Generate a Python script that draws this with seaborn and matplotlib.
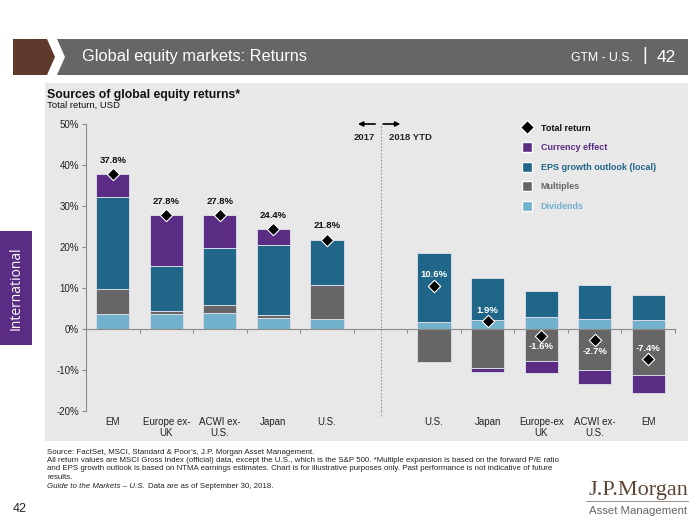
import matplotlib
matplotlib.use("Agg")
import matplotlib.pyplot as plt
import seaborn as sns
import pandas as pd
import numpy as np
from matplotlib.patches import Polygon, Rectangle, Patch
from matplotlib.lines import Line2D

# ---------------- data ----------------
categories = ["EM", "Europe ex-\nUK", "ACWI ex-\nU.S.", "Japan", "U.S.",
              "U.S.", "Japan", "Europe-ex\nUK", "ACWI ex-\nU.S.", "EM"]
periods = ["2017"] * 5 + ["2018 YTD"] * 5
dividends = [3.7, 3.7, 3.9, 2.7, 2.5, 1.7, 2.1, 2.9, 2.5, 2.1]
multiples = [6.0, 0.7, 2.0, 0.6, 8.3, -8.0, -9.6, -7.9, -10.1, -11.1]
eps_growth = [22.4, 11.0, 13.9, 17.1, 11.0, 16.9, 10.3, 6.3, 8.2, 6.1]
currency = [5.7, 12.4, 8.0, 4.0, 0.0, 0.0, -0.8, -2.8, -3.4, -4.5]
total_return = [37.8, 27.8, 27.8, 24.4, 21.8, 10.6, 1.9, -1.6, -2.7, -7.4]
y_ticks = [-20, -10, 0, 10, 20, 30, 40, 50]

# ---------------- style ----------------
sns.set_theme(style="white")
plt.rcParams["font.family"] = ["Liberation Sans", "DejaVu Sans"]

C_CUR = "#5B2C83"
C_EPS = "#1F6689"
C_MUL = "#666666"
C_DIV = "#72B1CC"
PANEL = "#E8E8E8"

W, H = 700, 525
fig = plt.figure(figsize=(7, 5.25), dpi=100)


def fx(x):
    return x / W


def fy(y):
    return 1 - y / H


def ftext(x, y, s, **kw):
    fig.text(fx(x), fy(y), s, transform=fig.transFigure, **kw)


# header
fig.patches.append(Polygon([(fx(13), fy(39)), (fx(47), fy(39)), (fx(55), fy(57)),
                            (fx(47), fy(75)), (fx(13), fy(75))], closed=True,
                           transform=fig.transFigure, facecolor="#5E3A2C", edgecolor="none"))
fig.patches.append(Polygon([(fx(57), fy(39)), (fx(688), fy(39)), (fx(688), fy(75)),
                            (fx(57), fy(75)), (fx(65), fy(57))], closed=True,
                           transform=fig.transFigure, facecolor="#666666", edgecolor="none"))
ftext(82, 57, "Global equity markets: Returns", color="white", fontsize=11.8,
      va="center", ha="left")
ftext(633, 58, "GTM - U.S.", color="white", fontsize=8.8, va="center", ha="right")
ftext(645, 56, "|", color="white", fontsize=13, va="center", ha="center")
ftext(657, 57, "42", color="white", fontsize=12.5, va="center", ha="left")

# grey panel (behind the chart)
fig.patches.append(Rectangle((fx(45), fy(441)), fx(688) - fx(45), fy(83) - fy(441),
                             transform=fig.transFigure, facecolor=PANEL, edgecolor="none",
                             zorder=-5))

# side tab
fig.patches.append(Rectangle((fx(0), fy(345)), fx(32), fy(231) - fy(345),
                             transform=fig.transFigure, facecolor=C_CUR, edgecolor="none"))
ftext(16, 288, "International", color="white", fontsize=10, rotation=90,
      va="center", ha="center", family=["Open Sans", "DejaVu Sans"])

ftext(47, 95, "Sources of global equity returns*", fontsize=8.8, weight="bold",
      color="#111111", va="center")
ftext(47, 105, "Total return, USD", fontsize=6.8, color="#111111", va="center")

# ---------------- chart ----------------
ax = fig.add_axes([fx(86), fy(411), fx(675) - fx(86), fy(124) - fy(411)])
ax.set_facecolor("none")

df = pd.DataFrame({
    "category": categories, "period": periods,
    "Dividends": dividends, "Multiples": multiples,
    "EPS growth outlook (local)": eps_growth, "Currency effect": currency,
    "Total return": total_return,
})
df["x"] = np.arange(len(df)) + (df["period"] == "2018 YTD").astype(int)

comps = [("Dividends", C_DIV), ("Multiples", C_MUL),
         ("EPS growth outlook (local)", C_EPS), ("Currency effect", C_CUR)]
pos_bottom = np.zeros(len(df))
neg_bottom = np.zeros(len(df))
for name, col in comps:
    vals = df[name].to_numpy()
    bottom = np.where(vals >= 0, pos_bottom, neg_bottom)
    ax.bar(df["x"], vals, bottom=bottom, width=0.62, color=col,
           edgecolor="#D8DAE6", linewidth=0.7, zorder=2)
    pos_bottom = pos_bottom + np.where(vals > 0, vals, 0)
    neg_bottom = neg_bottom + np.where(vals < 0, vals, 0)

sns.scatterplot(data=df, x="x", y="Total return", marker="D", s=40, color="black",
                edgecolor="white", linewidth=0.8, zorder=4, ax=ax, legend=False)

label_offset = [10, 10, 10, 10, 10, 8, 8, -8, -8, 8]
for i, r in df.iterrows():
    txt = f"{r['Total return']:.1f}%"
    col = "#111111" if r["period"] == "2017" else "white"
    ax.annotate(txt, (r["x"], r["Total return"]), xytext=(0, label_offset[i]),
                textcoords="offset points", ha="center", va="center",
                fontsize=6.8, weight="bold", color=col, zorder=5)

ax.set_xlim(-0.5, 10.5)
ax.set_ylim(-20, 50)
ax.set_yticks(y_ticks)
ax.set_yticklabels([f"{v}%" for v in y_ticks], fontsize=7, color="#222222")
ax.set_xlabel("")
ax.set_ylabel("")

for s in ["top", "right"]:
    ax.spines[s].set_visible(False)
ax.spines["left"].set_color("#8C8C8C")
ax.spines["left"].set_linewidth(0.8)
ax.spines["bottom"].set_position(("data", 0))
ax.spines["bottom"].set_color("#8C8C8C")
ax.spines["bottom"].set_linewidth(0.8)
ax.spines["bottom"].set_zorder(3)
ax.set_xticks([v + 0.5 for v in range(0, 11)])
ax.set_xticklabels([])
ax.tick_params(axis="x", bottom=True, length=3, width=0.8, color="#8C8C8C", direction="out")
ax.tick_params(axis="y", left=True, length=3, width=0.8, color="#8C8C8C", direction="out", pad=2)

for _, r in df.iterrows():
    ax.text(r["x"], -0.02, r["category"], transform=ax.get_xaxis_transform(),
            ha="center", va="top", fontsize=7, color="#222222", linespacing=1.2)

# divider and period markers
ax.axvline(5, ymin=0, ymax=1, color="#999999", linestyle=(0, (1.5, 1.5)),
           linewidth=0.8, zorder=1)
ax.plot([5, 5], [-20, -21.5], color="#999999", linestyle=(0, (1.5, 1.5)),
        linewidth=0.8, clip_on=False)
arrow_kw = dict(arrowstyle="-|>", color="black", lw=1.2, mutation_scale=7,
                shrinkA=0, shrinkB=0)
ax.annotate("", xy=(4.58, 50), xytext=(4.9, 50), arrowprops=arrow_kw)
ax.annotate("", xy=(5.37, 50), xytext=(5.05, 50), arrowprops=arrow_kw)
ax.text(4.7, 46.8, "2017", ha="center", va="center", fontsize=6.8, weight="bold")
ax.text(5.15, 46.8, "2018 YTD", ha="left", va="center", fontsize=6.8, weight="bold")

# legend
handles = [Line2D([0], [0], marker="D", color="none", markerfacecolor="black",
                  markeredgecolor="white", markersize=7.5)]
handles += [Patch(facecolor=c) for c in [C_CUR, C_EPS, C_MUL, C_DIV]]
labels = ["Total return", "Currency effect", "EPS growth outlook (local)", "Multiples", "Dividends"]
leg = fig.legend(handles, labels, loc="upper left", bbox_to_anchor=(fx(522), fy(123)),
                 bbox_transform=fig.transFigure, frameon=False,
                 labelspacing=1.05, handlelength=1.15, handleheight=1.3, handletextpad=0.9,
                 borderpad=0, borderaxespad=0,
                 labelcolor=["#111111", C_CUR, C_EPS, C_MUL, C_DIV],
                 prop={"weight": "bold", "size": 6.5})

# footer
fs = 5.7
ftext(47, 452, "Source: FactSet, MSCI, Standard & Poor\u2019s, J.P. Morgan Asset Management.",
      fontsize=fs, va="center", color="#222222")
ftext(47, 460.5, "All return values are MSCI Gross Index (official) data, except the U.S., which is the S&P 500. "
      "*Multiple expansion is based on the forward P/E ratio", fontsize=fs,
      va="center", color="#222222")
ftext(47, 469, "and EPS growth outlook is based on NTMA earnings estimates. Chart is for illustrative "
      "purposes only. Past performance is not indicative of future", fontsize=fs,
      va="center", color="#222222")
ftext(47, 477.5, "results.", fontsize=fs, va="center", color="#222222")
ftext(47, 487, "Guide to the Markets \u2013 U.S.", fontsize=fs, style="italic",
      va="center", color="#222222")
ftext(148, 487, "Data are as of September 30, 2018.", fontsize=fs,
      va="center", color="#222222")
ftext(13, 509, "42", fontsize=9, va="center", color="#222222")

ftext(688, 490, "J.P.Morgan", fontsize=16, family=["Liberation Serif", "DejaVu Serif"],
      ha="right", va="center", color="#5E4636")
fig.lines.append(Line2D([fx(586), fx(688)], [fy(501), fy(501)], transform=fig.transFigure,
                        color="#8B7B70", linewidth=0.6))
ftext(687, 511, "Asset Management", fontsize=8.2, ha="right", va="center", color="#666666")

fig.savefig("out.png", dpi=100)
